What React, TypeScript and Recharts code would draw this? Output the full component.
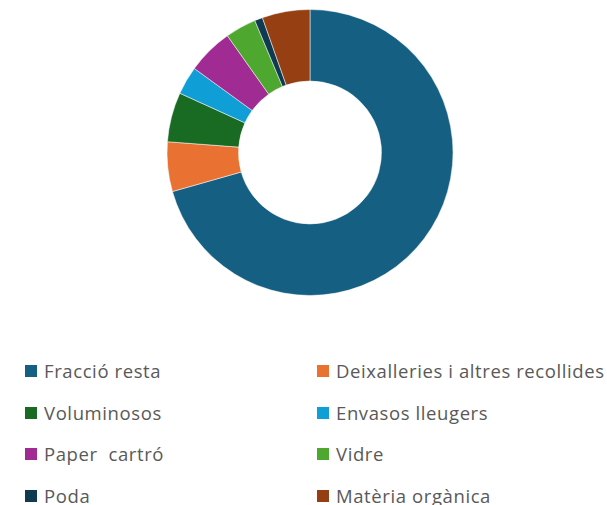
import React from "react";
import { PieChart, Pie, Cell, Legend } from "recharts";

const categories = [
  "Fracció resta",
  "Deixalleries i altres recollides",
  "Voluminosos",
  "Envasos lleugers",
  "Paper  cartró",
  "Vidre",
  "Poda",
  "Matèria orgànica",
];
const values = [70.6, 5.6, 5.6, 3.2, 5.2, 3.5, 0.9, 5.4];
const colors = ["#156082", "#E97132", "#196B24", "#0F9ED5", "#A02B93", "#4EA72E", "#0E3A52", "#953F12"];

const data = categories.map((name, i) => ({ name, value: values[i] }));

const LegendContent = () => (
  <div style={{ position: "relative", width: 607, height: 144 }}>
    {categories.map((name, i) => {
      const col = i % 2;
      const row = Math.floor(i / 2);
      const left = col === 0 ? 25 : 317;
      const top = row * 41.5;
      return (
        <div
          key={name}
          style={{
            position: "absolute",
            left,
            top,
            display: "flex",
            alignItems: "center",
            height: 24,
            whiteSpace: "pre",
          }}
        >
          <span style={{ width: 12, height: 12, background: colors[i], display: "inline-block", marginRight: 7, flexShrink: 0 }} />
          <span style={{ fontFamily: "'Open Sans', sans-serif", fontSize: 18.5, color: "#595959", lineHeight: "24px", letterSpacing: 0.6 }}>{name}</span>
        </div>
      );
    })}
  </div>
);

export default function App() {
  return (
    <div style={{ position: "absolute", left: 0, top: 0, width: 607, height: 505, background: "#fff", overflow: "hidden" }}>
      <PieChart width={607} height={505} margin={{ top: 0, right: 0, bottom: 0, left: 0 }}>
        <Pie
          data={data}
          dataKey="value"
          nameKey="name"
          cx={310}
          cy={152.5}
          innerRadius={71.5}
          outerRadius={143}
          startAngle={90}
          endAngle={-270}
          stroke="#ffffff"
          strokeWidth={0.5}
          isAnimationActive={false}
        >
          {data.map((d, i) => (
            <Cell key={d.name} fill={colors[i]} />
          ))}
        </Pie>
        <Legend
          content={<LegendContent />}
          wrapperStyle={{ position: "absolute", left: 0, top: 359, width: 607, height: 146 }}
        />
      </PieChart>
    </div>
  );
}
